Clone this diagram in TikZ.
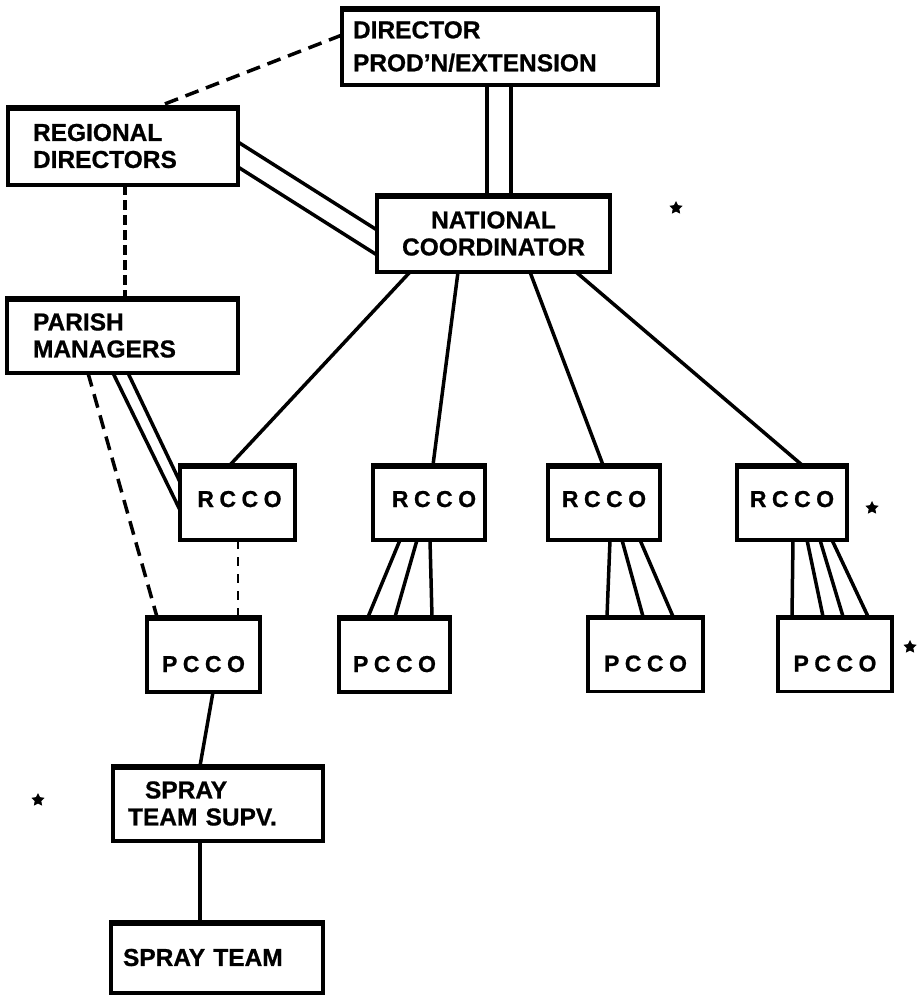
\documentclass[tikz,border=0pt]{standalone}
\usepackage{fontspec}
\setmainfont{Liberation Sans}[BoldFeatures={FakeBold=0.8}]
\usetikzlibrary{calc,shapes.geometric}
\newcommand\gapRC{\hspace{5.5pt}}
\begin{document}
\begin{tikzpicture}[x=1pt,y=-1pt,
  box/.style={draw, line width=3.5pt, rectangle, outer sep=0pt, inner sep=0pt,
    font=\bfseries\fontsize{24.5}{27}\selectfont},
  smallbox/.style={box, minimum height=75pt, font=\bfseries\fontsize{23}{27}\selectfont},
  rbox/.style={smallbox, text height=17pt, text depth=8pt},
  pbox/.style={smallbox, text height=35pt, text depth=0pt},
  ln/.style={line width=3.5pt},
  longdash/.style={line width=3.5pt, dash pattern=on 14pt off 8pt},
  shortdash/.style={line width=3.5pt, dash pattern=on 10pt off 5pt},
  thindash/.style={line width=1.8pt, dash pattern=on 9pt off 8pt},
  mark star/.style={star, star points=5, star point ratio=2.0, fill=black, draw=none, minimum size=14pt, inner sep=0pt}
]
\useasboundingbox (0,0) rectangle (921,996);

% boxes
\node[box, minimum width=316pt, minimum height=77pt, text width=294pt, align=left,
      font=\bfseries\fontsize{24.5}{33}\selectfont] (dir) at (500,46.5) {DIRECTOR\\PROD’N/EXTENSION};
\node[box, minimum width=230pt, minimum height=78pt, text width=180pt, align=left] (rd) at (123,146) {REGIONAL\\DIRECTORS};
\node[box, minimum width=233pt, minimum height=77pt, align=center] (nc) at (493.5,233.5) {NATIONAL\\COORDINATOR};
\node[box, minimum width=231pt, minimum height=75pt, text width=179pt, align=left] (pm) at (122.5,335.5) {PARISH\\MANAGERS};

\node[rbox, minimum width=115pt] (r1) at (237.5,502.5) {\hspace{4pt}R\gapRC C\gapRC C\gapRC O};
\node[rbox, minimum width=112pt] (r2) at (429,502.5) {\hspace{10pt}R\gapRC C\gapRC C\gapRC O};
\node[rbox, minimum width=112pt] (r3) at (604,502.5) {R\gapRC C\gapRC C\gapRC O\hspace{10pt}};
\node[rbox, minimum width=110pt] (r4) at (792,502.5) {R\gapRC C\gapRC C\gapRC O};

\node[pbox, minimum width=113pt] (p1) at (203.5,654.5) {P\gapRC C\gapRC C\gapRC O};
\node[pbox, minimum width=111pt] (p2) at (394.5,654.5) {P\gapRC C\gapRC C\gapRC O\hspace{8pt}};
\node[pbox, minimum width=115pt] (p3) at (645.5,654) {P\gapRC C\gapRC C\gapRC O\hspace{10pt}};
\node[pbox, minimum width=114pt] (p4) at (835,654) {P\gapRC C\gapRC C\gapRC O\hspace{14pt}};

\node[box, minimum width=210pt, minimum height=75pt, text width=180pt, align=left] (sup) at (218,803.5) {\hspace*{17pt}SPRAY\\TEAM SUPV.};
\node[box, minimum width=212pt, minimum height=71pt, text width=188pt, align=left] (st) at (217,957.5) {SPRAY TEAM};

% heavier top edges
\foreach \n in {dir,rd,nc,pm,r1,r2,r3,r4,p1,p2,p3,p4,sup,st}
  \draw[line width=5.5pt] ($(\n.north west)+(-1.75,1)$) -- ($(\n.north east)+(1.75,1)$);

% connectors
\draw[longdash] ($(dir.north west)+(0,27)$) -- ($(rd.north west)+(149,0)$);
\draw[ln] ($(dir.south west)+(145,0)$) -- ($(nc.north west)+(110,0)$);
\draw[ln] ($(dir.south west)+(169,0)$) -- ($(nc.north west)+(134,0)$);
\draw[ln] ($(rd.north east)+(0,35)$) -- ($(nc.north west)+(0,35)$);
\draw[ln] ($(rd.north east)+(0,60)$) -- ($(nc.north west)+(0,60)$);
\draw[shortdash] ($(rd.south west)+(117,0)$) -- ($(pm.north west)+(118,0)$);

\draw[ln] ($(nc.south west)+(33,0)$) -- ($(r1.north west)+(50,0)$);
\draw[ln] ($(nc.south west)+(81,0)$) -- ($(r2.north west)+(60,0)$);
\draw[ln] ($(nc.south west)+(153,0)$) -- ($(r3.north west)+(55,0)$);
\draw[ln] ($(nc.south west)+(199,0)$) -- ($(r4.north west)+(65,0)$);

\draw[ln] ($(pm.south west)+(106,0)$) -- ($(r1.north west)+(0,45)$);
\draw[ln] ($(pm.south west)+(121,0)$) -- ($(r1.north west)+(0,17)$);
\draw[longdash] ($(pm.south west)+(81,0)$) -- ($(p1.north west)+(10,0)$);
\draw[thindash] ($(r1.south west)+(58,0)$) -- ($(p1.north west)+(91,0)$);

\draw[ln] ($(r2.south west)+(27,0)$) -- ($(p2.north west)+(29,0)$);
\draw[ln] ($(r2.south west)+(44,0)$) -- ($(p2.north west)+(56,0)$);
\draw[ln] ($(r2.south west)+(57,0)$) -- ($(p2.north west)+(93,0)$);

\draw[ln] ($(r3.south west)+(62,0)$) -- ($(p3.north west)+(19,0)$);
\draw[ln] ($(r3.south west)+(74,0)$) -- ($(p3.north west)+(55,0)$);
\draw[ln] ($(r3.south west)+(92,0)$) -- ($(p3.north west)+(85,0)$);

\draw[ln] ($(r4.south west)+(56,0)$) -- ($(p4.north west)+(14,0)$);
\draw[ln] ($(r4.south west)+(70,0)$) -- ($(p4.north west)+(45,0)$);
\draw[ln] ($(r4.south west)+(83,0)$) -- ($(p4.north west)+(65,0)$);
\draw[ln] ($(r4.south west)+(95,0)$) -- ($(p4.north west)+(90,0)$);

\draw[ln] ($(p1.south west)+(66,0)$) -- ($(sup.north west)+(87,0)$);
\draw[ln] ($(sup.south west)+(87,0)$) -- ($(st.north west)+(89,0)$);

% stars
\node[mark star] (s1) at (676,208) {};
\node[mark star] (s2) at (872,508) {};
\node[mark star] (s3) at (910,647) {};
\node[mark star] (s4) at (38,800) {};
\end{tikzpicture}
\end{document}
